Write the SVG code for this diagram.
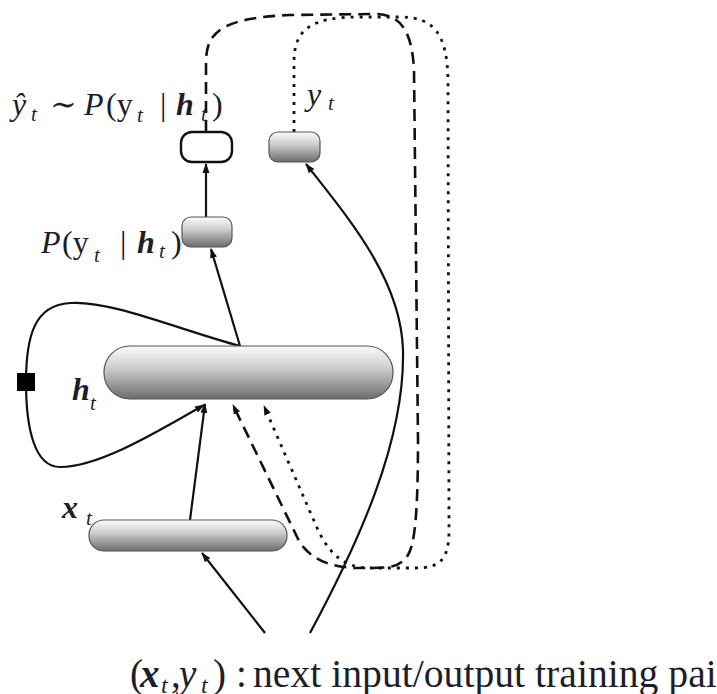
<svg xmlns="http://www.w3.org/2000/svg" width="717" height="694" viewBox="0 0 717 694">
<style>
.t{font-family:"Liberation Serif","DejaVu Serif",serif;fill:#1e1e2a}
.i{font-style:italic}
.b{font-weight:bold;font-style:italic}
.node{stroke:#555;stroke-width:1.2}
.c{fill:none;stroke:#111;stroke-width:2.2}
.dash{stroke-dasharray:12 7;stroke-width:2.6}
.dot{stroke-dasharray:3 6;stroke-width:2.8}
</style>
<defs>
<linearGradient id="g" x1="0" y1="0" x2="0" y2="1">
<stop offset="0" stop-color="#fbfbfb"/>
<stop offset="0.4" stop-color="#cfcfcf"/>
<stop offset="1" stop-color="#6c6c6c"/>
</linearGradient>
<marker id="a" markerWidth="10" markerHeight="8" refX="9" refY="4" orient="auto" markerUnits="userSpaceOnUse">
<path d="M0,0.5 L10,4 L0,7.5 Z" fill="#111"/>
</marker>
</defs>
<g id="connectors">
<path class="c" d="M240,346 C180,330 110,300 70,303 C35,305 26,335 26,382 C26,430 35,467 60,467 C100,467 160,430 204,405" marker-end="url(#a)"/>
<line class="c" x1="190" y1="520" x2="205" y2="404" marker-end="url(#a)"/>
<line class="c" x1="240" y1="346" x2="211" y2="249" marker-end="url(#a)"/>
<line class="c" x1="206" y1="217" x2="206" y2="164" marker-end="url(#a)"/>
<line class="c" x1="265" y1="633" x2="202" y2="553" marker-end="url(#a)"/>
<path class="c" d="M310,633 C360,540 405,440 403,350 C401,280 350,220 306,164" marker-end="url(#a)"/>
<path class="c dash" d="M206,132 L206,62 C206,30 225,18 290,15 L375,14 C400,14 412,30 414,70 L418,440 C418,520 414,545 408,555 C400,567 390,568 370,568 L355,568 C335,567 315,563 300,543 L233,405" marker-end="url(#a)"/>
<path class="c dot" d="M294,132 L294,62 C294,30 310,17 360,17 L400,17 C435,17 447,35 448,80 L449,530 C449,560 440,568 415,568 L370,568 C345,568 330,555 318,530 L264,406" marker-end="url(#a)"/>
<rect x="17" y="373" width="18" height="18" fill="#000"/>
</g>
<g id="yhat"><rect x="181" y="132" width="51" height="30" rx="11" fill="#fff" stroke="#111" stroke-width="2.4"/></g>
<g id="y"><rect class="node" x="269" y="132" width="51" height="30" rx="9" fill="url(#g)"/></g>
<g id="p"><rect class="node" x="182" y="217" width="50" height="30" rx="9" fill="url(#g)"/></g>
<g id="h"><rect class="node" x="104" y="346" width="289" height="53" rx="26" fill="url(#g)"/></g>
<g id="x"><rect class="node" x="89" y="520" width="198" height="31" rx="15" fill="url(#g)"/></g>
<g id="labels">
<text class="t" font-size="32"><tspan class="i" x="12" y="115">ŷ</tspan><tspan class="i" x="31" y="121" font-size="21">t</tspan><tspan x="50" y="115">∼</tspan><tspan class="i" x="84" y="115">P</tspan><tspan x="106" y="115">(y</tspan><tspan class="i" x="137" y="122" font-size="21">t</tspan><tspan x="160" y="115">|</tspan><tspan class="b" x="176" y="115">h</tspan><tspan class="i" x="201" y="121" font-size="21">t</tspan><tspan x="212" y="115">)</tspan></text>
<text class="t" font-size="32"><tspan class="i" x="307" y="105">y</tspan><tspan class="i" x="328" y="110" font-size="21">t</tspan></text>
<text class="t" font-size="32"><tspan class="i" x="41" y="253">P</tspan><tspan x="62" y="253">(y</tspan><tspan class="i" x="94" y="262" font-size="21">t</tspan><tspan x="120" y="253">|</tspan><tspan class="b" x="137" y="253">h</tspan><tspan class="i" x="159" y="258" font-size="21">t</tspan><tspan x="171" y="253">)</tspan></text>
<text class="t" font-size="32"><tspan class="b" x="72" y="400">h</tspan><tspan class="i" x="90" y="410" font-size="21">t</tspan></text>
<text class="t" font-size="32"><tspan class="b" x="62" y="518">x</tspan><tspan class="i" x="86" y="525" font-size="21">t</tspan></text>
<text class="t" font-size="39"><tspan x="130" y="687">(</tspan><tspan class="b" x="140" y="687">x</tspan><tspan class="i" x="161" y="693" font-size="24">t</tspan><tspan x="171" y="687">,</tspan><tspan class="i" x="179" y="687">y</tspan><tspan class="i" x="201" y="693" font-size="24">t</tspan><tspan x="213" y="687">)</tspan><tspan x="236" y="687">:</tspan></text>
<text class="t" font-size="39" x="253" y="687" textLength="477" lengthAdjust="spacingAndGlyphs">next input/output training pair</text>
</g>
</svg>
